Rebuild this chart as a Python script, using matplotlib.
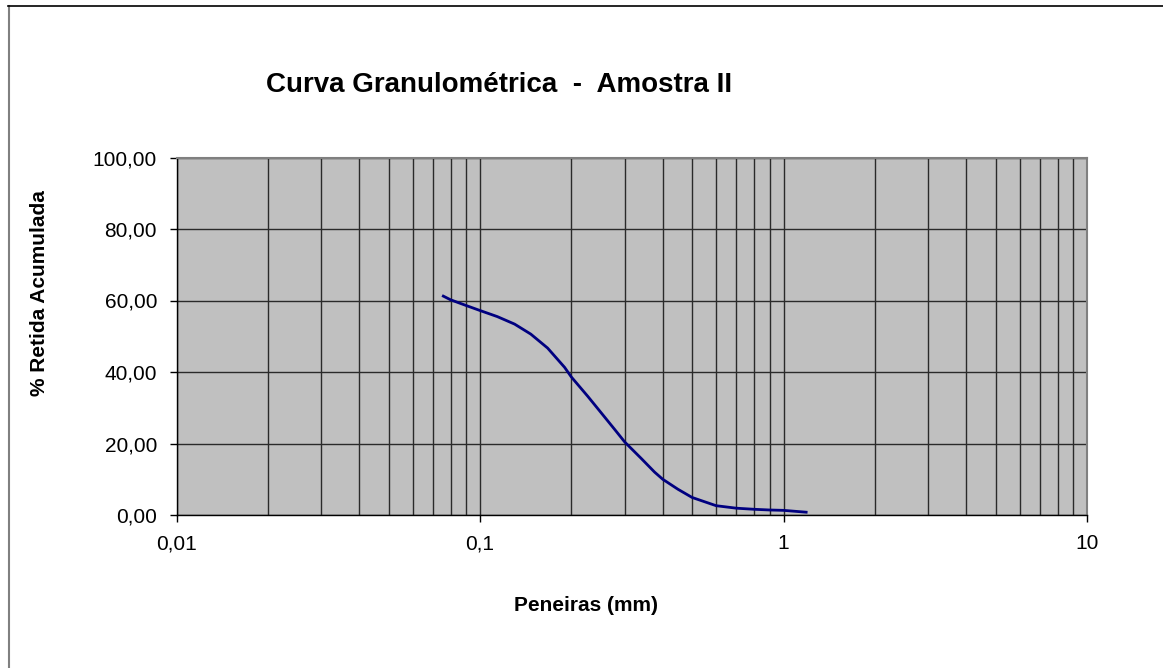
import matplotlib
matplotlib.use("Agg")
import matplotlib.pyplot as plt
from matplotlib.ticker import FixedLocator, FuncFormatter
from matplotlib.lines import Line2D

# ------ Data ------
peneiras_mm = [0.075, 0.08, 0.09, 0.1, 0.114, 0.13, 0.147, 0.167, 0.19, 0.2,
               0.2265, 0.2507, 0.2774, 0.3, 0.34, 0.376, 0.4, 0.449, 0.5, 0.6,
               0.7, 0.8, 0.9, 1.0, 1.2]
retida_acum = [61.4, 60.2, 58.6, 57.2, 55.5, 53.4, 50.6, 46.7, 41.3, 38.6,
               33.2, 28.6, 24.0, 20.4, 15.8, 12.0, 10.0, 7.2, 4.9, 2.6,
               1.9, 1.6, 1.4, 1.3, 0.75]

x_ticks = [0.01, 0.1, 1, 10]
x_tick_labels = ['0,01', '0,1', '1', '10']
y_ticks = [0, 20, 40, 60, 80, 100]
# --------------------------------------

plt.rcParams['font.family'] = ['Liberation Sans', 'DejaVu Sans']

fig = plt.figure(figsize=(11.63, 6.68), dpi=100)
W, H = 1163, 668
ax = fig.add_axes([176.5 / W, 1 - 515 / H, (1087 - 176.5) / W, (515 - 157.5) / H])

ax.set_facecolor('#c0c0c0')
ax.set_xscale('log')
ax.set_xlim(0.01, 10)
ax.set_ylim(0, 100)

# grid lines (Excel-style, every minor decade step)
minor = [m * 10.0 ** e for e in (-2, -1, 0) for m in range(2, 10)]
ax.xaxis.set_major_locator(FixedLocator(x_ticks))
ax.xaxis.set_minor_locator(FixedLocator(minor))
ax.xaxis.set_major_formatter(FuncFormatter(lambda v, p: x_tick_labels[x_ticks.index(v)] if v in x_ticks else ''))
ax.xaxis.set_minor_formatter(FuncFormatter(lambda v, p: ''))
ax.set_yticks(y_ticks)
ax.yaxis.set_major_formatter(FuncFormatter(lambda v, p: f'{v:.2f}'.replace('.', ',')))

ax.grid(True, which='both', axis='x', color='#2a2a2a', linewidth=1.0)
ax.grid(True, which='major', axis='y', color='#2a2a2a', linewidth=1.0)
ax.set_axisbelow(True)

ax.tick_params(axis='x', which='major', direction='out', length=5, width=1, labelsize=15, pad=9)
ax.tick_params(axis='x', which='minor', length=0)
ax.tick_params(axis='y', direction='out', length=5, width=1, labelsize=15, pad=9)

for side in ('top', 'right'):
    ax.spines[side].set_color('#808080')
    ax.spines[side].set_linewidth(1.5)
for side in ('left', 'bottom'):
    ax.spines[side].set_color('#000000')
    ax.spines[side].set_linewidth(1.0)

ax.plot(peneiras_mm, retida_acum, color='#000080', linewidth=2.0,
        solid_capstyle='butt', solid_joinstyle='round')

fig.text(499.5 / W, 1 - 92 / H, 'Curva Granulométrica  -  Amostra II',
         fontsize=20, fontweight='bold', ha='center', va='baseline')
fig.text(586.5 / W, 1 - 611 / H, 'Peneiras (mm)', fontsize=15, fontweight='bold',
         ha='center', va='baseline')
fig.text(40 / W, 1 - 293.5 / H, '% Retida Acumulada', fontsize=15, fontweight='bold',
         ha='center', va='center', rotation=90)

# chart area frame (left and top edges visible)
fig.add_artist(Line2D([8.5 / W, 8.5 / W], [0, 1 - 6 / H], color='#808080', linewidth=1.5))
fig.add_artist(Line2D([8 / W, 1], [1 - 6 / H, 1 - 6 / H], color='#000000', linewidth=1.2))

fig.savefig('out.png', dpi=100)
